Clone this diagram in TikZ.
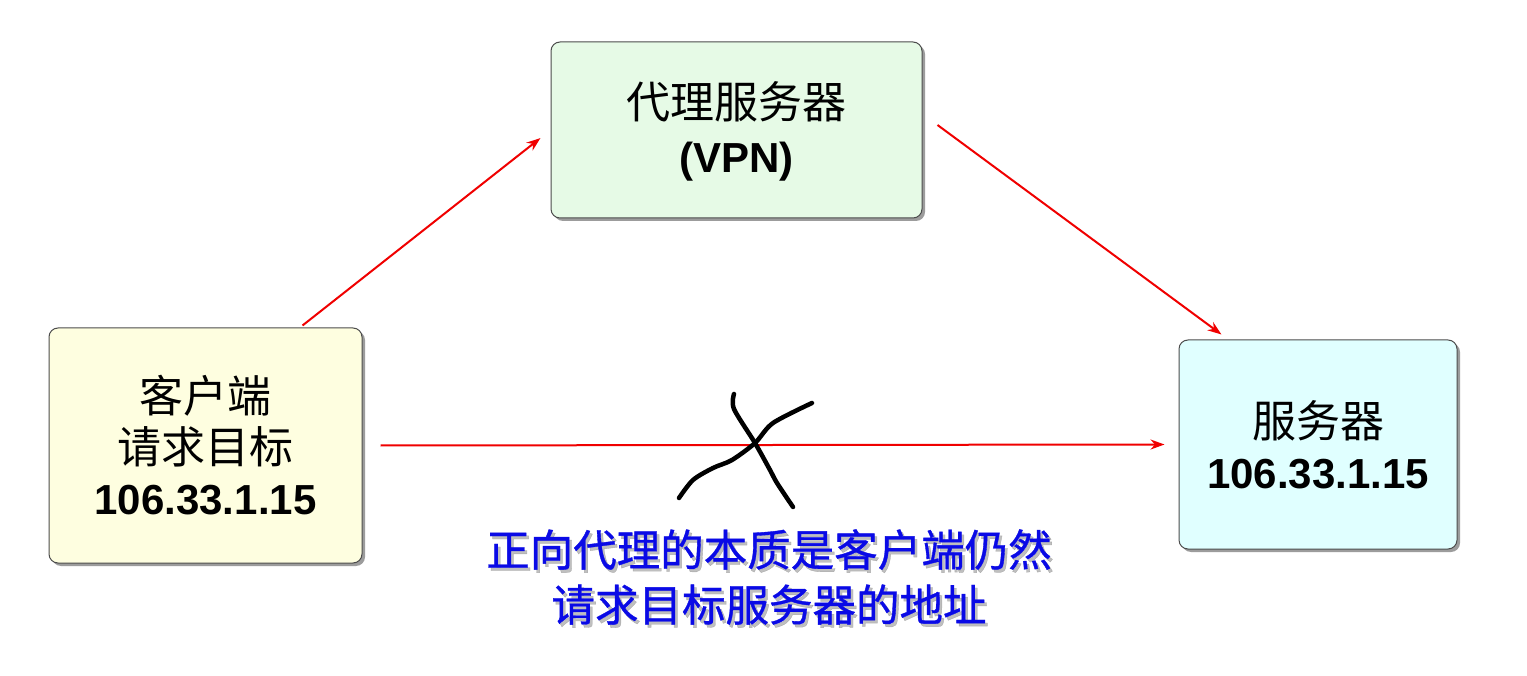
\documentclass[tikz,border=0pt]{standalone}
\usepackage{fontspec}
\setmainfont{Liberation Sans}
\newfontfamily\cjk{Noto Sans CJK SC}
\newfontfamily\cjkmed[FakeBold=0.8]{Noto Sans CJK SC}
\usetikzlibrary{arrows.meta,shadows,positioning}
\definecolor{clientfill}{HTML}{FEFEE0}
\definecolor{proxyfill}{HTML}{E6FAE6}
\definecolor{serverfill}{HTML}{E0FFFF}
\definecolor{noteblue}{HTML}{0A0AE6}
\definecolor{arrowred}{HTML}{F00000}
\tikzset{
  box/.style={draw=black!70, line width=1pt, rounded corners=9pt, inner sep=0pt,
    align=center, font=\fontsize{42}{51}\selectfont,
    drop shadow={shadow xshift=3pt, shadow yshift=-3pt, fill=black!55, opacity=0.7}},
  flow/.style={draw=arrowred, line width=2pt, -{Stealth[length=14pt,width=10pt]}},
  cross/.style={draw=black, line width=4.5pt, line cap=round, line join=round},
  note/.style={font=\fontsize{43.5}{55}\selectfont\cjkmed, align=center, inner sep=0pt}
}
\begin{document}
\begin{tikzpicture}[x=1pt,y=-1pt]
\useasboundingbox[fill=white] (0,0) rectangle (1527,676);

\node[box, fill=clientfill, minimum width=313pt, minimum height=235pt] (client) at (205.5,445.5)
  {{\cjk\fontsize{44}{51}\selectfont 客户端}\\{\cjk\fontsize{44}{51}\selectfont 请求目标}\\{\bfseries 106.33.1.15}};
\node[box, fill=proxyfill, minimum width=371pt, minimum height=176pt] (proxy) at (736.5,130)
  {\rule{0pt}{40pt}{\cjk\fontsize{44}{51}\selectfont 代理服务器}\\[3pt]{\bfseries (VPN)}};
\node[box, fill=serverfill, minimum width=278pt, minimum height=209pt] (server) at (1318,444.5)
  {{\cjk\fontsize{44}{51}\selectfont 服务器}\\{\bfseries 106.33.1.15}};

\draw[flow] ([xshift=-60pt,yshift=2pt]client.north east) -- ([xshift=-10pt,yshift=-8pt]proxy.west);
\draw[flow] ([xshift=15pt,yshift=5pt]proxy.east) -- ([xshift=43pt,yshift=5pt]server.north west);
\draw[flow] ([xshift=18pt]client.east) -- ([xshift=-14pt]server.west);

\draw[cross] plot[smooth, tension=0.5] coordinates {(734,394) (734,409) (755,443) (770,470) (777,483) (793,507)};
\draw[cross] plot[smooth, tension=0.5] coordinates {(812,403) (773,423) (755,443) (732,460) (713,468) (693,480) (679,498)};

\node[note, text=black!45, opacity=0.55] (noteshadow) at (771.5,580) {正向代理的本质是客户端仍然\\请求目标服务器的地址};
\node[note, text=noteblue] (note) at (769,577) {正向代理的本质是客户端仍然\\请求目标服务器的地址};
\end{tikzpicture}
\end{document}
